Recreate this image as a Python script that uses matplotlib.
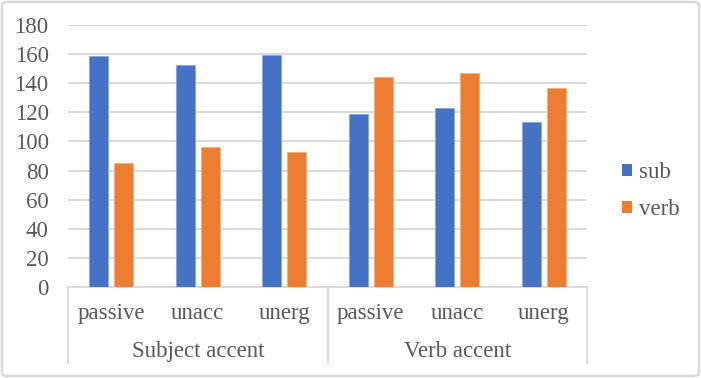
import matplotlib
matplotlib.use("Agg")
import matplotlib.pyplot as plt
import numpy as np
from matplotlib.patches import FancyBboxPatch, Patch
from matplotlib.transforms import blended_transform_factory

groups = ["Subject accent", "Verb accent"]
categories = ["passive", "unacc", "unerg"]
series_names = ["sub", "verb"]
sub_values = [158.5, 152.5, 159.5, 119, 123, 113.5]
verb_values = [85, 96, 92.5, 144.5, 147, 136.5]
y_ticks = [0, 20, 40, 60, 80, 100, 120, 140, 160, 180]

plt.rcParams['font.family'] = ['Liberation Serif', 'DejaVu Serif']
text_color = '#595959'
grid_color = '#d9d9d9'
colors = ['#4472C4', '#ED7D31']
fs = 16.5

fig = plt.figure(figsize=(7.01, 3.78), dpi=100)
ax = fig.add_axes([68/701, 1-287/378, (587-68)/701, 262/378])

n = len(groups) * len(categories)
x = np.arange(n)
w = 0.22
gap = 0.07
ax.bar(x - (w+gap)/2, sub_values, width=w, color=colors[0], edgecolor='#7d9bd6', linewidth=0.4, zorder=3)
ax.bar(x + (w+gap)/2, verb_values, width=w, color=colors[1], edgecolor='#f3a774', linewidth=0.4, zorder=3)

ax.set_xlim(-0.5, n-0.5)
ax.set_ylim(0, 180)
ax.set_yticks(y_ticks)
ax.set_yticklabels([str(v) for v in y_ticks], fontsize=fs, color=text_color)
ax.tick_params(axis='y', length=0, pad=14)
ax.yaxis.grid(True, color=grid_color, linewidth=1.3, zorder=0)
ax.set_axisbelow(True)
for s in ['top', 'right', 'left']:
    ax.spines[s].set_visible(False)
ax.spines['bottom'].set_color(grid_color)
ax.spines['bottom'].set_linewidth(1.3)

ax.set_xticks([])
tr = blended_transform_factory(ax.transData, ax.transAxes)
labels = categories * len(groups)
for i, lab in enumerate(labels):
    ax.text(i, -0.10, lab, transform=tr, ha='center', va='center', fontsize=fs, color=text_color)
for g, name in enumerate(groups):
    cx = g*len(categories) + (len(categories)-1)/2
    ax.text(cx, -0.248, name, transform=tr, ha='center', va='center', fontsize=fs, color=text_color)
for b in range(len(groups)+1):
    xb = b*len(categories) - 0.5
    ax.plot([xb, xb], [0, -0.29], transform=tr, color=grid_color, linewidth=1.3, clip_on=False)

handles = [Patch(facecolor=colors[0], label=series_names[0]),
           Patch(facecolor=colors[1], label=series_names[1])]
leg = fig.legend(handles=handles, loc='center left', bbox_to_anchor=(601/701, 1-191/378),
                 frameon=False, fontsize=fs, handlelength=0.45, handleheight=0.45,
                 handletextpad=0.3, labelspacing=0.7)
for t in leg.get_texts():
    t.set_color(text_color)

border = FancyBboxPatch((2/701, 2/378), 1-4/701, 1-4/378, boxstyle="round,pad=0,rounding_size=0.008",
                        transform=fig.transFigure, facecolor='none', edgecolor='#d9d9d9', linewidth=1.8)
fig.patches.append(border)

fig.savefig("out.png", dpi=100)
